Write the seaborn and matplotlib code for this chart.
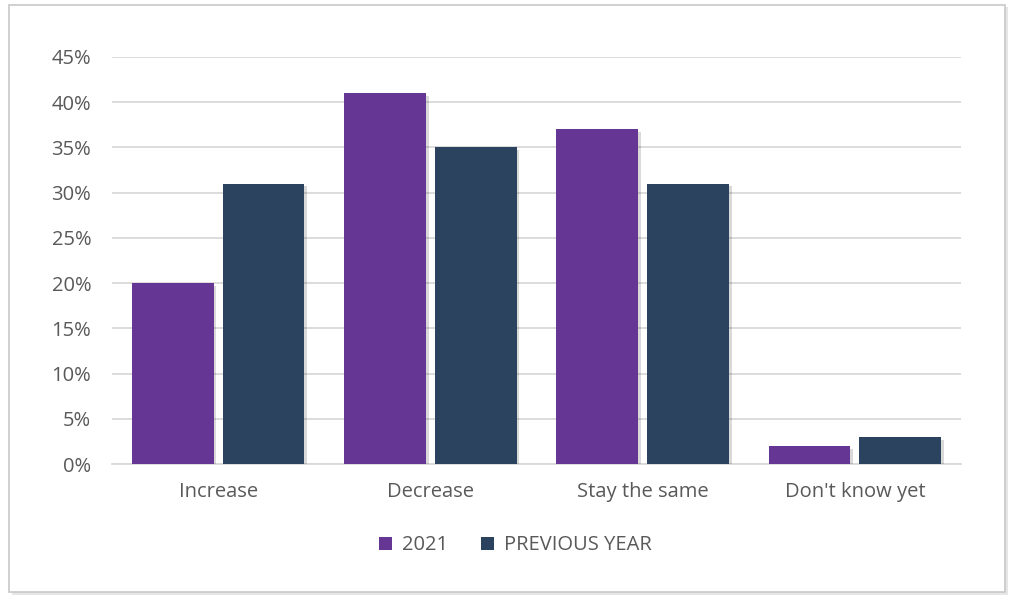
import matplotlib
matplotlib.use("Agg")
import matplotlib.pyplot as plt
import matplotlib.patheffects as pe
from matplotlib.patches import Rectangle
import seaborn as sns
import pandas as pd

categories = ["Increase", "Decrease", "Stay the same", "Don't know yet"]
series_names = ["2021", "PREVIOUS YEAR"]
values_2021 = [20, 41, 37, 2]
values_prev = [31, 35, 31, 3]
ytick_vals = [0, 5, 10, 15, 20, 25, 30, 35, 40, 45]
ytick_labels = [f"{v}%" for v in ytick_vals]

df = pd.DataFrame({
    "category": categories * 2,
    "series": [series_names[0]] * 4 + [series_names[1]] * 4,
    "value": values_2021 + values_prev,
})

sns.set_theme(style="white")
plt.rcParams["font.family"] = ["Open Sans", "DejaVu Sans"]

fig = plt.figure(figsize=(10.19, 6.01), dpi=100)
fig.patch.set_facecolor("white")

# outer frame with light shadow
fig.patches.append(Rectangle((12 / 1019, 1 - 595 / 601), 996 / 1019, 588 / 601,
                             transform=fig.transFigure, facecolor="#e6e6e6",
                             edgecolor="none", zorder=-3))
fig.patches.append(Rectangle((9 / 1019, 1 - 592 / 601), 996 / 1019, 587 / 601,
                             transform=fig.transFigure, facecolor="white",
                             edgecolor="#c8c8c8", linewidth=1.2, zorder=-2))

ax = fig.add_axes([112 / 1019, 1 - 464 / 601, 849 / 1019, (464 - 57) / 601])
ax.set_facecolor("none")
ax.set_zorder(1)

palette = {"2021": "#663695", "PREVIOUS YEAR": "#2c4360"}
sns.barplot(data=df, x="category", y="value", hue="series", order=categories,
            hue_order=series_names, palette=palette, width=0.856, gap=0.1,
            saturation=1, ax=ax, legend=True, zorder=3, linewidth=0)

ax.set_ylim(0, 45)
ax.set_xlim(-0.5, 3.5)
ax.set_yticks(ytick_vals)
ax.set_yticklabels(ytick_labels)
ax.yaxis.grid(True, color="#d9d9d9", linewidth=1.3, zorder=0)
ax.set_axisbelow(True)
for s in ["top", "right", "left"]:
    ax.spines[s].set_visible(False)
ax.spines["bottom"].set_color("#d9d9d9")
ax.spines["bottom"].set_linewidth(1.3)
ax.tick_params(axis="y", length=0, pad=15, labelsize=14.5, labelcolor="#595959")
ax.tick_params(axis="x", length=0, pad=13, labelsize=14.5, labelcolor="#595959")
ax.set_xlabel("")
ax.set_ylabel("")

leg = ax.legend(loc="center", bbox_to_anchor=(0.475, -0.2), ncol=2, frameon=False,
                fontsize=14.5, handlelength=0.65, handleheight=0.65, handletextpad=0.5,
                columnspacing=1.6, labelcolor="#595959")
for h in leg.legend_handles:
    h.set_path_effects([])
    h.set_linewidth(0)

for p in ax.patches:
    p.set_path_effects([pe.SimplePatchShadow(offset=(2, -2), shadow_rgbFace="#000000", alpha=0.15),
                        pe.Normal()])

fig.savefig("out.png", dpi=100)
